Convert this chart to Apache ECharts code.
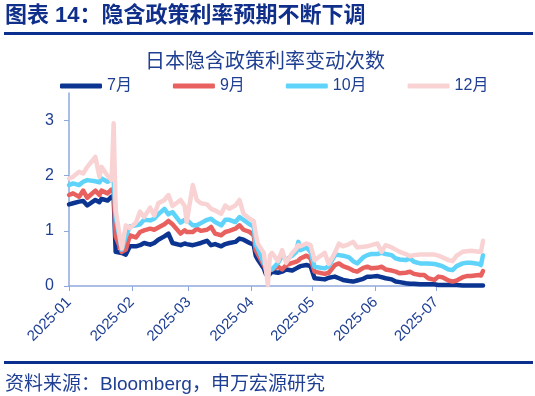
<!DOCTYPE html>
<html>
<head>
<meta charset="utf-8">
<script src="https://cdn.jsdelivr.net/npm/echarts@6/dist/echarts.min.js"></script>
<style>
html, body { margin: 0; padding: 0; background: #fff; }
#chart { width: 535px; height: 396px; }
</style>
</head>
<body>
<div id="chart"></div>
<script>
var dates = [
    '2025-01-01','2025-01-03','2025-01-06','2025-01-08','2025-01-10','2025-01-14','2025-01-16','2025-01-17','2025-01-20','2025-01-22','2025-01-23','2025-01-24','2025-01-27','2025-01-29','2025-01-31',
    '2025-02-03','2025-02-05','2025-02-07','2025-02-10','2025-02-12','2025-02-14','2025-02-17','2025-02-19','2025-02-21','2025-02-25','2025-02-27','2025-02-28',
    '2025-03-03','2025-03-05','2025-03-07','2025-03-10','2025-03-12','2025-03-14','2025-03-17','2025-03-19','2025-03-21','2025-03-24','2025-03-26','2025-03-28','2025-03-31',
    '2025-04-02','2025-04-03','2025-04-04','2025-04-07','2025-04-08','2025-04-09','2025-04-10','2025-04-11','2025-04-14','2025-04-16','2025-04-18','2025-04-21','2025-04-23','2025-04-24','2025-04-25','2025-04-28','2025-04-30',
    '2025-05-02','2025-05-07','2025-05-09','2025-05-12','2025-05-14','2025-05-16','2025-05-19','2025-05-21','2025-05-23','2025-05-26','2025-05-28','2025-05-30',
    '2025-06-02','2025-06-04','2025-06-06','2025-06-09','2025-06-11','2025-06-13','2025-06-16','2025-06-18','2025-06-20','2025-06-23','2025-06-25','2025-06-27','2025-06-30',
    '2025-07-02','2025-07-04','2025-07-07','2025-07-09','2025-07-11','2025-07-14','2025-07-16','2025-07-18','2025-07-22','2025-07-23','2025-07-24'
];

// 7月
var jul = [
    1.48,1.50,1.53,1.54,1.46,1.56,1.52,1.58,1.55,1.62,1.63,0.62,0.60,0.57,0.72,
    0.72,0.74,0.78,0.75,0.78,0.84,0.90,0.95,0.78,0.74,0.77,0.76,
    0.74,0.76,0.78,0.82,0.74,0.76,0.72,0.76,0.78,0.80,0.86,0.84,0.78,
    0.75,0.55,0.48,0.32,0.22,0.18,0.22,0.26,0.24,0.26,0.30,0.28,0.32,0.34,0.36,0.38,0.36,
    0.14,0.12,0.15,0.17,0.14,0.11,0.09,0.08,0.10,0.13,0.17,0.17,
    0.18,0.16,0.14,0.12,0.08,0.07,0.05,0.04,0.04,0.03,0.03,0.03,0.03,
    0.02,0.02,0.02,0.02,0.02,0.01,0.01,0.01,0.01,0.01,0.01
];
// 9月
var sep = [
    1.65,1.68,1.62,1.73,1.60,1.73,1.65,1.73,1.68,1.75,1.72,0.90,0.62,0.66,0.92,
    0.88,0.98,1.01,1.04,1.02,1.06,1.12,1.18,1.12,0.95,1.01,0.98,
    0.98,1.04,1.00,1.02,1.07,0.95,0.92,0.98,1.00,1.04,1.10,1.02,0.98,
    0.92,0.65,0.58,0.38,0.30,0.26,0.28,0.30,0.35,0.30,0.38,0.42,0.44,0.46,0.50,0.55,0.50,
    0.26,0.22,0.24,0.38,0.41,0.36,0.32,0.28,0.26,0.33,0.35,0.32,
    0.33,0.35,0.30,0.28,0.26,0.23,0.24,0.26,0.22,0.20,0.20,0.14,0.11,
    0.17,0.16,0.10,0.08,0.10,0.16,0.18,0.18,0.20,0.19,0.27
];
// 10月
var oct = [
    1.83,1.86,1.83,1.89,1.92,1.90,1.88,1.95,1.89,1.93,1.92,1.25,0.66,0.90,1.08,
    1.10,1.12,1.20,1.19,1.22,1.30,1.40,1.30,1.34,1.15,1.20,1.20,
    1.10,1.10,1.14,1.20,1.22,1.16,1.10,1.20,1.20,1.16,1.25,1.20,1.12,
    1.08,0.75,0.68,0.42,0.36,0.30,0.32,0.30,0.42,0.55,0.48,0.55,0.62,0.80,0.65,0.70,0.62,
    0.35,0.32,0.36,0.56,0.56,0.55,0.52,0.45,0.41,0.52,0.56,0.58,
    0.58,0.60,0.58,0.56,0.50,0.48,0.47,0.50,0.44,0.41,0.41,0.41,0.40,
    0.38,0.36,0.30,0.29,0.36,0.41,0.42,0.42,0.40,0.38,0.56
];
// 12月
var dec = [
    1.95,1.98,2.07,2.04,2.16,2.34,1.98,2.16,2.00,1.92,2.95,1.37,0.68,1.10,1.05,
    1.15,1.35,1.25,1.42,1.28,1.50,1.56,1.65,1.45,1.56,1.45,1.16,
    1.83,1.56,1.50,1.48,1.40,1.37,1.31,1.46,1.40,1.46,1.56,1.31,1.22,
    1.18,0.95,0.77,0.60,0.30,0.02,0.55,0.60,0.45,0.65,0.42,0.60,0.68,0.74,0.72,0.77,0.74,
    0.47,0.60,0.40,0.60,0.77,0.72,0.76,0.80,0.70,0.71,0.72,0.74,
    0.77,0.62,0.74,0.70,0.66,0.62,0.58,0.54,0.56,0.57,0.57,0.57,0.57,
    0.55,0.52,0.47,0.45,0.55,0.62,0.63,0.64,0.62,0.62,0.82
];

var names = ['7月', '9月', '10月', '12月'];
var colors = ['#0c3591', '#e8615f', '#5fd3f9', '#f9d3d4'];
var yTicks = [0, 1, 2, 3];

var textColor = '#1f3f93';
var font = '"Liberation Sans", "Noto Sans CJK SC", sans-serif';

function pairs(vals) {
    return dates.map(function (d, i) { return [d, vals[i]]; });
}

var chart = echarts.init(document.getElementById('chart'));

var seriesList = [jul, sep, oct, dec].map(function (vals, i) {
    return {
        name: names[i],
        type: 'line',
        data: pairs(vals),
        symbol: 'none',
        lineStyle: { width: 4.5, color: colors[i], join: 'round', cap: 'round' },
        itemStyle: { color: colors[i] }
    };
});

var option = {
    animation: false,
    textStyle: { fontFamily: font },
    title: {
        text: '日本隐含政策利率变动次数',
        left: 260,
        top: 47,
        textAlign: 'center',
        textStyle: { color: textColor, fontSize: 20, fontWeight: 'normal', fontFamily: font }
    },
    legend: {
        data: names,
        left: 55,
        top: 73,
        icon: 'roundRect',
        itemWidth: 42,
        itemHeight: 5,
        itemGap: 41,
        textStyle: { color: textColor, fontSize: 16, fontFamily: font }
    },
    grid: { left: 69, right: 52, top: 93, bottom: 110, outerBoundsMode: 'none' },
    xAxis: {
        type: 'time',
        min: '2025-01-01',
        max: '2025-07-24',
        minInterval: 28 * 24 * 3600 * 1000,
        maxInterval: 31 * 24 * 3600 * 1000,
        axisLine: { lineStyle: { color: '#8ea9de', width: 1.5 } },
        axisTick: { show: true, length: 5, lineStyle: { color: '#8ea9de' } },
        splitLine: { show: false },
        axisLabel: {
            rotate: 45,
            margin: 14,
            color: textColor,
            fontSize: 15,
            fontFamily: font,
            showMaxLabel: false,
            formatter: function (v) {
                var d = new Date(v);
                var m = d.getMonth() + 1;
                return d.getFullYear() + '-' + (m < 10 ? '0' + m : m);
            }
        }
    },
    yAxis: {
        type: 'value',
        min: 0,
        max: 3.5,
        interval: 1,
        axisLine: { show: true, lineStyle: { color: '#8ea9de', width: 1.5 } },
        axisTick: { show: true, length: 5, customValues: yTicks, lineStyle: { color: '#8ea9de' } },
        splitLine: { show: false },
        axisLabel: {
            color: textColor,
            fontSize: 16,
            fontFamily: font,
            margin: 15,
            customValues: yTicks
        }
    },
    graphic: [
        {
            type: 'text',
            left: 5,
            top: 5,
            style: {
                text: '图表 14：隐含政策利率预期不断下调',
                font: 'bold 22px ' + font,
                fill: '#0f2f8a'
            }
        },
        { type: 'rect', shape: { x: 4, y: 32, width: 529, height: 3 }, style: { fill: '#0a2f8f' } },
        { type: 'rect', shape: { x: 4, y: 361, width: 529, height: 3 }, style: { fill: '#0a2f8f' } },
        {
            type: 'text',
            left: 5,
            top: 375,
            style: {
                text: '资料来源：Bloomberg，申万宏源研究',
                font: '19px ' + font,
                fill: textColor
            }
        }
    ],
    series: seriesList
};

chart.setOption(option);
</script>
</body>
</html>
